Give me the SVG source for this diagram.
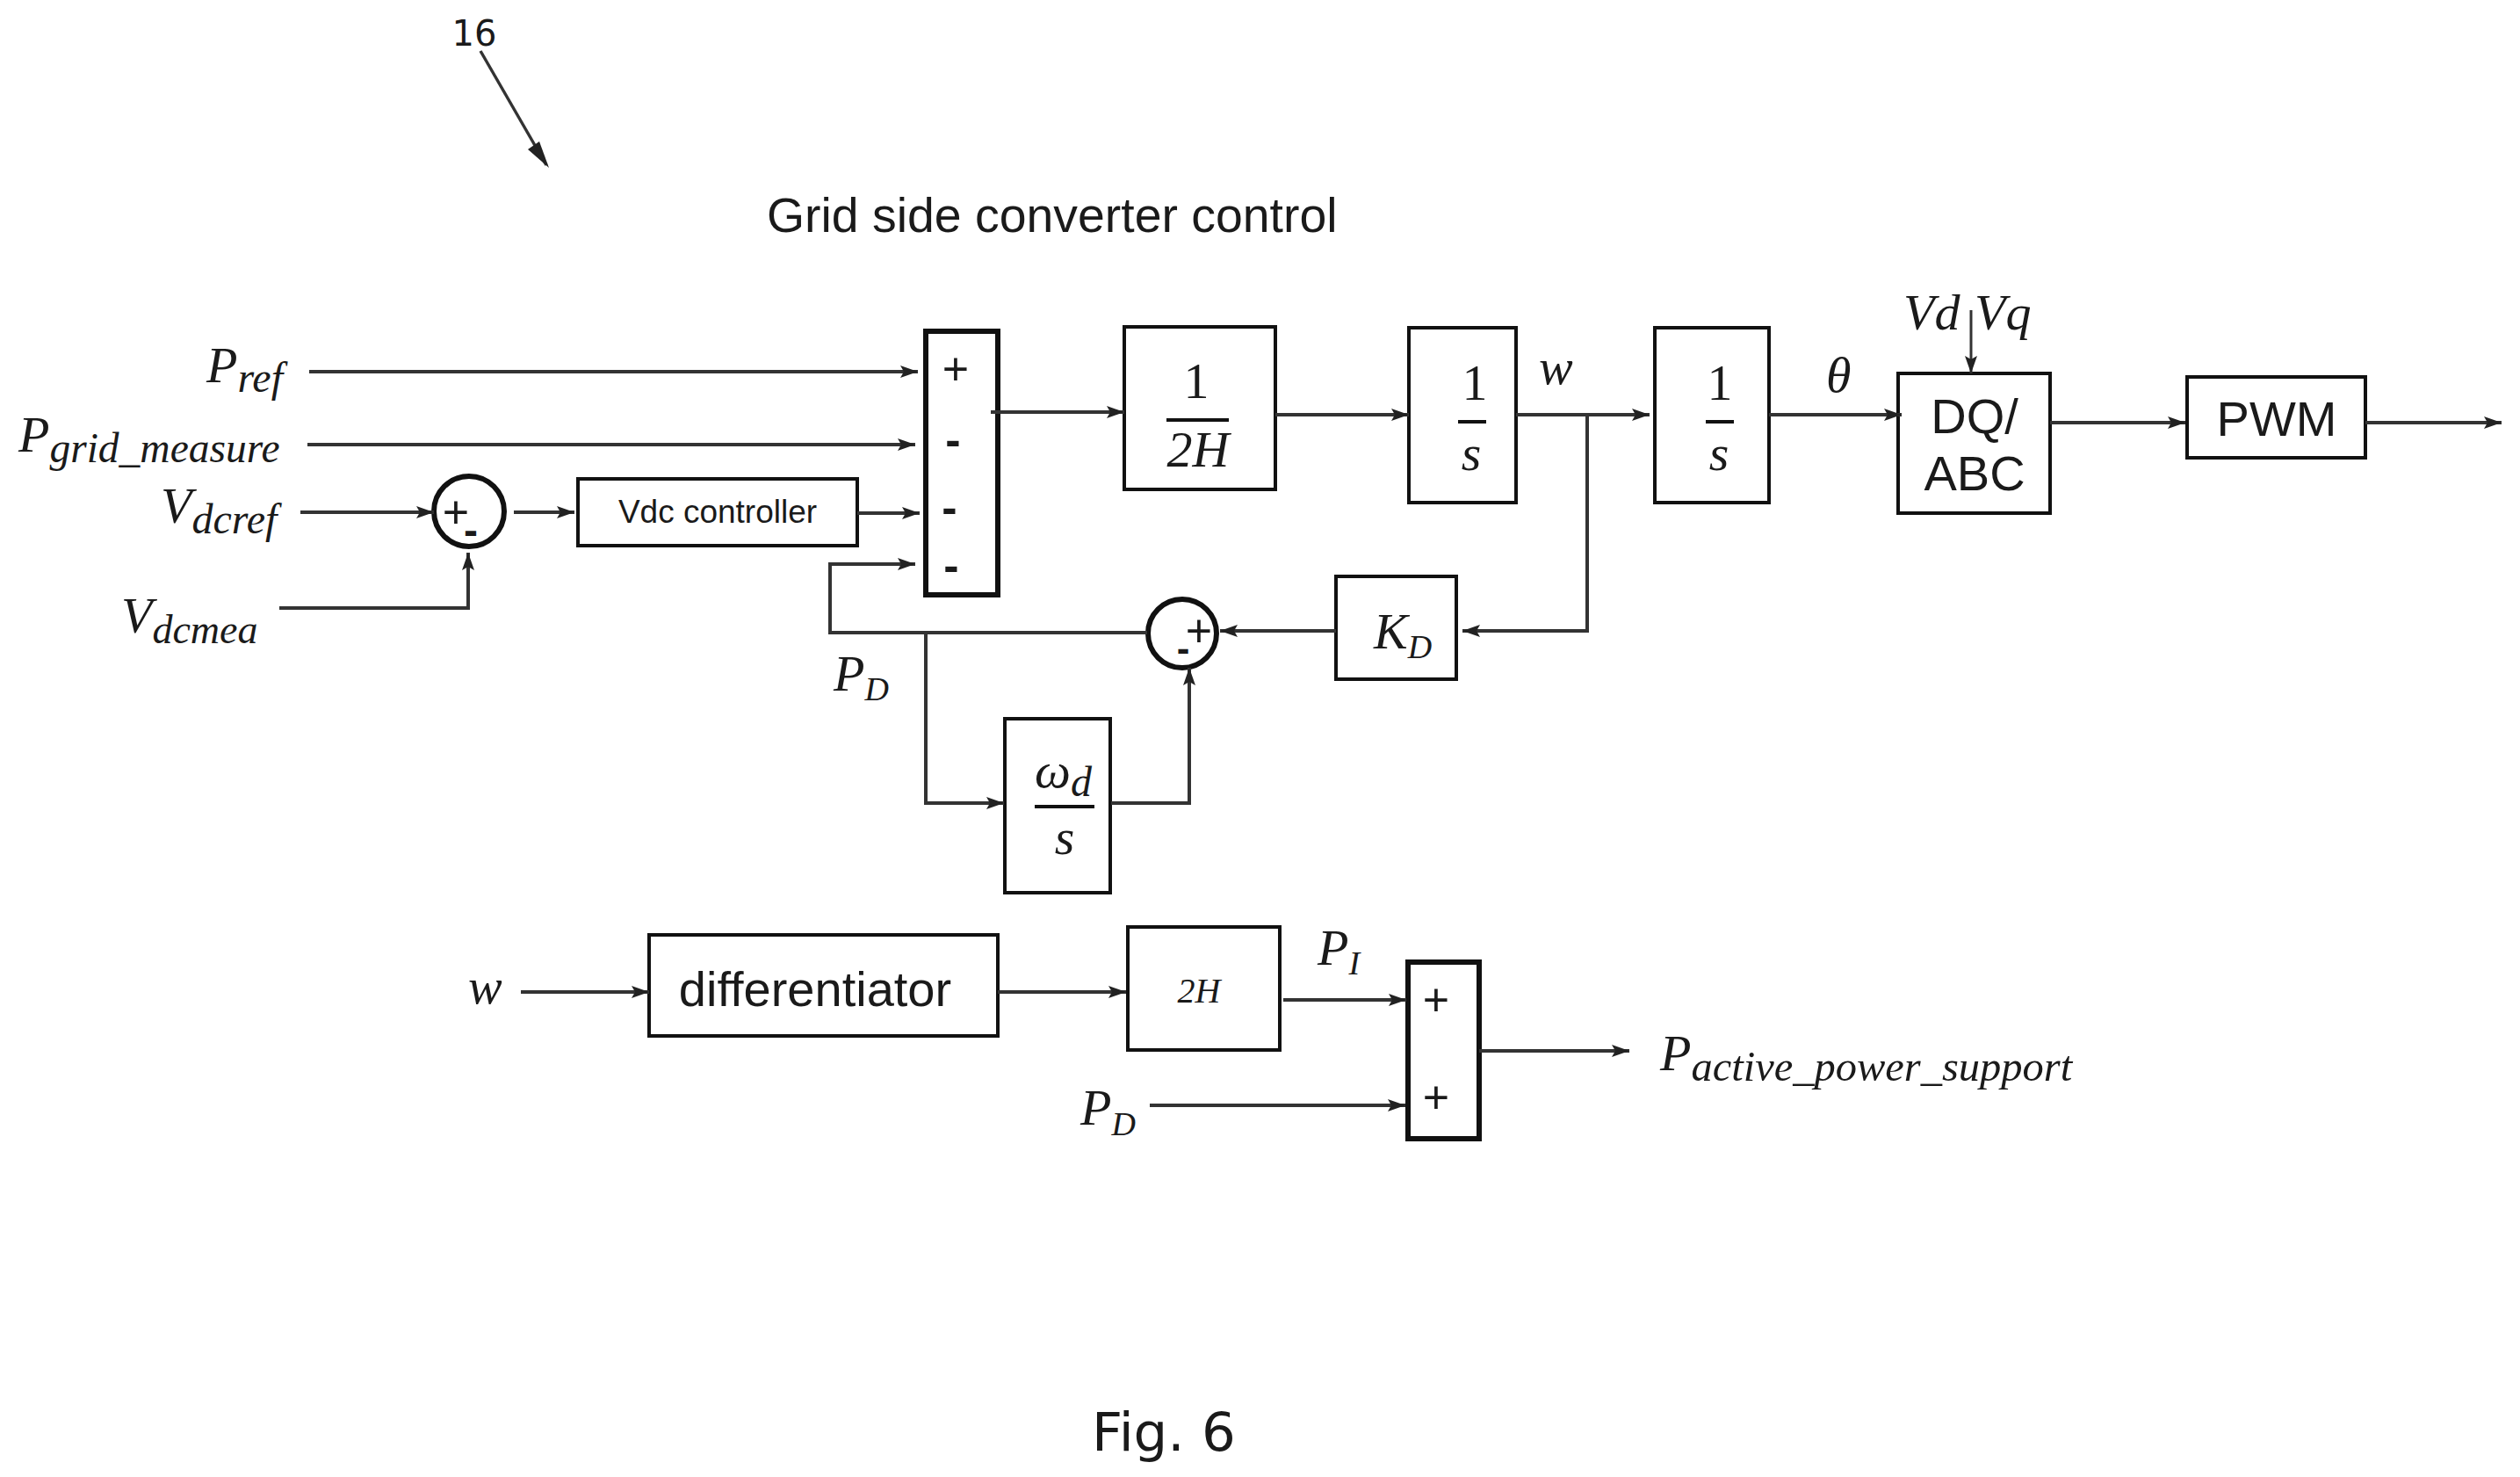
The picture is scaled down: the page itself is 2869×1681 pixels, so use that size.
<svg xmlns="http://www.w3.org/2000/svg" width="2869" height="1681" viewBox="0 0 2869 1681">
<defs>
<marker id="a" markerUnits="userSpaceOnUse" markerWidth="22" markerHeight="18" refX="20" refY="8" orient="auto"><path d="M0,1 L20,8 L0,15 L4,8 Z" fill="#222"/></marker>
</defs>
<style>
text{fill:#1a1a1a}
.s{font-family:"Liberation Sans",Arial,sans-serif}
.d{font-family:"DejaVu Sans",Verdana,sans-serif}
.m{font-family:"Liberation Serif","Times New Roman",serif;font-style:italic;font-size:58px}
.c{text-anchor:middle}
.b{fill:#fff;stroke:#111;stroke-width:4}
.h{fill:#fff;stroke:#111;stroke-width:6}
.l{fill:none;stroke:#333;stroke-width:4;marker-end:url(#a)}
.n{fill:none;stroke:#333;stroke-width:3.5}
.f{stroke:#111;stroke-width:4}
.sub{font-size:48px}
.ds{font-size:38px}
.g{font-size:52px}
.w{font-weight:bold}
</style>
<rect width="2869" height="1681" fill="#fff"/>
<g id="ref16"><text class="d c" x="540" y="52" font-size="40">16</text></g>
<g id="title"><text class="s" x="873" y="264" font-size="55.4">Grid side converter control</text></g>
<g id="fig"><text class="d" x="1243" y="1651" font-size="61">Fig. 6</text></g>
<g id="inputs">
<text class="m" x="235" y="435">P<tspan class="sub" dy="11">ref</tspan></text>
<text class="m" x="21" y="514">P<tspan class="sub" dy="12" style="font-size:47.5px">grid_measure</tspan></text>
<text class="m" x="183" y="595">V<tspan class="sub" dy="12">dcref</tspan></text>
<text class="m" x="138" y="720">V<tspan class="sub" dy="12" style="font-size:46px">dcmea</tspan></text>
<text class="m" x="949" y="786">P<tspan class="ds" dy="11">D</tspan></text>
<text class="m" x="1752" y="437">w</text>
<text class="m" x="2079" y="446">θ</text>
<text class="m" x="2167" y="375">Vd</text>
<text class="m" x="2248" y="375">Vq</text>
<text class="m" x="533" y="1142">w</text>
<text class="m" x="1230" y="1280">P<tspan class="ds" dy="12">D</tspan></text>
<text class="m" x="1500" y="1098">P<tspan class="ds" dy="11">I</tspan></text>
<text class="m" x="1890" y="1218">P<tspan class="sub" dy="12" style="font-size:48.5px">active_power_support</tspan></text>
</g>
<g id="mixer1"><rect class="h" x="1054" y="377" width="82" height="300"/>
<text class="s c g" x="1088" y="438">+</text><text class="s c g w" x="1085" y="518">-</text><text class="s c g w" x="1081" y="595">-</text><text class="s c g w" x="1083" y="661">-</text></g>
<g id="sum1"><circle class="b" style="stroke-width:6" cx="534" cy="582" r="40"/>
<text class="s c g" x="519" y="601">+</text><text class="s c w" x="536" y="620" font-size="48">-</text></g>
<g id="vdc"><rect class="b" x="658" y="545" width="318" height="76"/><text class="s c" x="817" y="595" font-size="37">Vdc controller</text></g>
<g id="gain2h"><rect class="b" x="1280" y="372" width="172" height="185"/>
<text class="m c" style="font-style:normal" x="1362" y="453">1</text><path class="f" d="M1328,478H1399"/><text class="m c" x="1364" y="531">2H</text></g>
<g id="int1"><rect class="b" x="1604" y="373" width="122" height="199"/>
<text class="m c" style="font-style:normal" x="1679" y="455">1</text><path class="f" d="M1660,480H1692"/><text class="m c" x="1675" y="535">s</text></g>
<g id="int2"><rect class="b" x="1884" y="373" width="130" height="199"/>
<text class="m c" style="font-style:normal" x="1958" y="455">1</text><path class="f" d="M1942,480H1974"/><text class="m c" x="1957" y="535">s</text></g>
<g id="dq"><rect class="b" x="2161" y="425" width="173" height="159"/>
<text class="s c" x="2248" y="493" font-size="56">DQ/</text><text class="s c" x="2248" y="558" font-size="56">ABC</text></g>
<g id="pwm"><rect class="b" x="2490" y="429" width="203" height="92"/><text class="s c" x="2592" y="496" font-size="56">PWM</text></g>
<g id="sum2"><circle class="b" style="stroke-width:6" cx="1346" cy="721" r="39"/>
<text class="s c g" x="1365" y="736">+</text><text class="s c w" x="1347" y="753" font-size="44">-</text></g>
<g id="kd"><rect class="b" x="1521" y="656" width="137" height="117"/><text class="m" x="1564" y="738">K<tspan class="ds" dy="11">D</tspan></text></g>
<g id="omega"><rect class="b" x="1144" y="818" width="120" height="198"/>
<text class="m" x="1178" y="896">ω<tspan class="sub" dy="10">d</tspan></text><path class="f" d="M1178,918H1246"/><text class="m c" x="1212" y="972">s</text></g>
<g id="diff"><rect class="b" x="739" y="1064" width="397" height="115"/><text class="s c" x="928" y="1145" font-size="56">differentiator</text></g>
<g id="g2h"><rect class="b" x="1284" y="1055" width="173" height="140"/><text class="m c" style="font-size:40px" x="1365" y="1141">2H</text></g>
<g id="mixer2"><rect class="h" x="1603" y="1095" width="81" height="201"/>
<text class="s c g" x="1635" y="1156">+</text><text class="s c g" x="1635" y="1267">+</text></g>
<g id="connectors">
<path class="l" d="M352,423H1045"/>
<path class="l" d="M350,506H1042"/>
<path class="l" d="M342,583H494"/>
<path class="l" d="M585,583H654"/>
<path class="l" d="M976,584H1047"/>
<path class="l" d="M318,692H533V629"/>
<path class="l" d="M1306,720H945V642H1042"/>
<path class="l" d="M1054,720V914H1143"/>
<path class="l" d="M1265,914H1354V760"/>
<path class="l" d="M1521,718H1389"/>
<path class="l" d="M1807,472V718H1665"/>
<path class="l" d="M1128,469H1280"/>
<path class="l" d="M1452,472H1604"/>
<path class="l" d="M1726,472H1878"/>
<path class="l" d="M2014,472H2165"/>
<path class="l" d="M2334,481H2488"/>
<path class="l" d="M2693,481H2848"/>
<path class="l" style="stroke-width:3" d="M2244,353V425"/>
<path class="l" d="M593,1129H739"/>
<path class="l" d="M1136,1129H1282"/>
<path class="l" d="M1461,1138H1601"/>
<path class="l" d="M1309,1258H1600"/>
<path class="l" d="M1684,1196H1855"/>
<path d="M547,58L622,188" class="n"/>
<path d="M601,170L625,191L614,161Z" fill="#222"/>
</g>
</svg>
